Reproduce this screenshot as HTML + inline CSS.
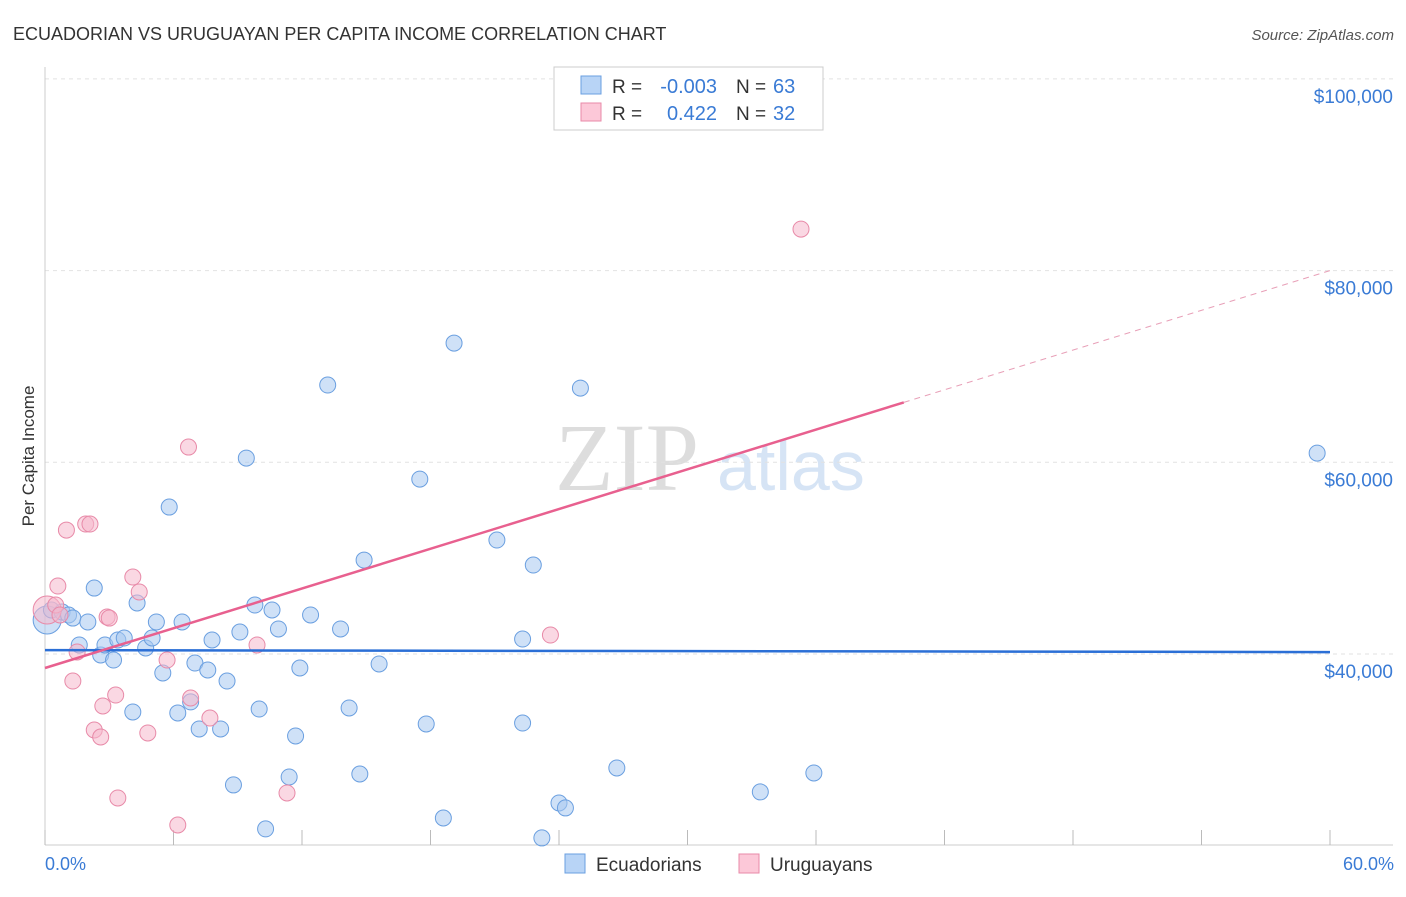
<!DOCTYPE html>
<html><head><meta charset="utf-8"><style>
body{margin:0;background:#fff;font-family:"Liberation Sans",sans-serif}
</style></head><body>
<svg id="chart" width="1406" height="892" xmlns="http://www.w3.org/2000/svg" font-family="Liberation Sans, sans-serif">
<text x="13" y="40" font-size="18" fill="#333">ECUADORIAN VS URUGUAYAN PER CAPITA INCOME CORRELATION CHART</text>
<text x="1394" y="40" font-size="15" fill="#555" font-style="italic" text-anchor="end">Source: ZipAtlas.com</text>
<text transform="translate(34,456) rotate(-90)" font-size="17" fill="#333" text-anchor="middle">Per Capita Income</text>
<text x="555" y="490" font-size="96" fill="#ddd" font-family="Liberation Serif, serif">ZIP</text>
<text x="717" y="490" font-size="70" fill="#d6e4f5">atlas</text>
<g id="grid"></g><g id="axes"></g><g id="pts"></g><g id="lines"></g>
<g>
<rect x="554" y="67" width="269" height="63" fill="#fff" stroke="#ccc"/>
<rect x="581" y="76" width="20" height="18" fill="#b8d4f6" stroke="#6a9fe0"/>
<rect x="581" y="103" width="20" height="18" fill="#fcc8d8" stroke="#e88aa8"/>
<text x="612" y="93" font-size="19" fill="#333">R =</text>
<text x="717" y="93" font-size="20" fill="#3a7bd5" text-anchor="end">-0.003</text>
<text x="736" y="93" font-size="19" fill="#333">N =</text>
<text x="773" y="93" font-size="20" fill="#3a7bd5">63</text>
<text x="612" y="120" font-size="19" fill="#333">R =</text>
<text x="717" y="120" font-size="20" fill="#3a7bd5" text-anchor="end">0.422</text>
<text x="736" y="120" font-size="19" fill="#333">N =</text>
<text x="773" y="120" font-size="20" fill="#3a7bd5">32</text>
</g>
<g>
<rect x="565" y="854" width="20" height="19" fill="#b8d4f6" stroke="#6a9fe0"/>
<text x="596" y="871" font-size="19" fill="#333">Ecuadorians</text>
<rect x="739" y="854" width="20" height="19" fill="#fcc8d8" stroke="#e88aa8"/>
<text x="770" y="871" font-size="19" fill="#333">Uruguayans</text>
</g>
<text x="45" y="870" font-size="18" fill="#3a7bd5">0.0%</text>
<text x="1394" y="870" font-size="18" fill="#3a7bd5" text-anchor="end">60.0%</text>
</svg>
<script>
const yTicks=[40000,60000,80000,100000];
const yTickLabels=["$40,000","$60,000","$80,000","$100,000"];
const blueX=[0.1,0.3,0.8,1.1,1.3,2.0,2.3,1.6,2.6,2.8,3.2,3.4,3.7,4.1,4.3,4.7,5.0,5.2,5.5,5.8,6.2,6.4,6.8,7.0,7.2,7.6,7.8,8.2,8.5,8.8,9.1,9.4,9.8,10.0,10.3,10.6,10.9,11.4,11.7,11.9,12.4,13.2,13.8,14.2,14.7,14.9,15.6,17.5,17.8,18.6,19.1,21.1,22.3,22.3,22.8,23.2,24.0,24.3,25.0,26.7,33.4,35.9,59.4];
const blueY=[43550,44590,44380,44070,43750,43340,46880,40940,39900,40940,39370,41460,41670,33950,45320,40630,41670,43340,38020,55330,33850,43340,35000,39060,32180,38330,41460,32180,37180,26340,42290,60440,45110,34260,21750,44590,42610,27170,31450,38540,44070,68060,42610,34370,27480,49800,38960,58250,32700,22890,72440,51890,41560,32800,49280,20810,24460,23940,67740,28110,25610,27590,60960];
const pinkX=[0.1,0.5,0.6,0.7,1.0,1.3,1.5,1.9,2.1,2.3,2.6,2.7,2.9,3.0,3.3,3.4,4.1,4.4,4.8,5.7,6.2,6.7,6.8,7.7,9.9,11.3,23.6,35.3];
const pinkY=[44590,45110,47090,44070,52930,37180,40210,53560,53560,32070,31340,34580,43860,43750,35720,24980,48030,46470,31760,39370,22160,61590,35410,33320,40940,25500,41980,84330];
const blueTrend=[40400,40200];
const pinkTrend=[38540,80000];
const pinkSolidEnd=40.1;
const NS="http://www.w3.org/2000/svg";
const sx=v=>45+v/60*1285;
const sy=v=>654-(v-40000)*191.7/20000;
function mk(tag,attrs,parent){const e=document.createElementNS(NS,tag);for(const k in attrs)e.setAttribute(k,attrs[k]);document.getElementById(parent).appendChild(e);return e;}
yTicks.forEach((t,i)=>{
 const g=mk('line',{x1:45,x2:1393,y1:sy(t),y2:sy(t),stroke:'#e2e2e2','stroke-dasharray':'4,4'},'grid');
 
 
 const l=mk('text',{x:1393,y:sy(t)+24,'font-size':19,fill:'#3a7bd5','text-anchor':'end'},'grid');
 l.textContent=yTickLabels[i];
 
 
});
let a=mk('line',{x1:45,x2:45,y1:67,y2:845,stroke:'#ccc'},'axes');


a=mk('line',{x1:45,x2:1393,y1:845,y2:845,stroke:'#ccc'},'axes');


for(let i=0;i<=10;i++){const t=mk('line',{x1:sx(i*6),x2:sx(i*6),y1:830,y2:845,stroke:'#bbb'},'axes');
 
 }
function pts(X,Y,fill,stroke,name){X.forEach((x,i)=>{
 const c=mk('circle',{cx:sx(x),cy:sy(Y[i]),r:(i===0?14:8),fill:fill,'fill-opacity':0.55,stroke:stroke,'stroke-width':1},'pts');
 
 });}
pts(blueX,blueY,'#a8c8f0','#6a9fe0','ecuadorian-point');
pts(pinkX,pinkY,'#f6b8cc','#e88aa8','uruguayan-point');
let ln=mk('line',{x1:sx(0),y1:sy(blueTrend[0]),x2:sx(60),y2:sy(blueTrend[1]),stroke:'#2b6fd6','stroke-width':2.5},'lines');


const pAt=x=>pinkTrend[0]+(pinkTrend[1]-pinkTrend[0])*x/60;
ln=mk('line',{x1:sx(0),y1:sy(pinkTrend[0]),x2:sx(pinkSolidEnd),y2:sy(pAt(pinkSolidEnd)),stroke:'#e8608f','stroke-width':2.5},'lines');


ln=mk('line',{x1:sx(pinkSolidEnd),y1:sy(pAt(pinkSolidEnd)),x2:sx(60),y2:sy(pinkTrend[1]),stroke:'#e8a0b8','stroke-width':1,'stroke-dasharray':'6,5'},'lines');


</script>
</body></html>
